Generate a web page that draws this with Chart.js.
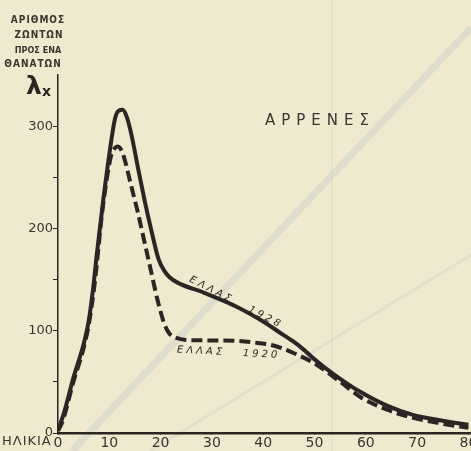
<!DOCTYPE html>
<html>
<head>
<meta charset="utf-8">
<script src="https://cdn.jsdelivr.net/npm/chart.js@4.4.1/dist/chart.umd.min.js"></script>
<style>
  html, body { margin: 0; padding: 0; background: #efe9d0; }
  #wrap { width: 471px; height: 451px; }
</style>
</head>
<body>
<div id="wrap"><canvas id="myChart" width="471" height="451"></canvas></div>
<script>
// ηλικία (x) και λx (y) για κάθε καμπύλη
var ages1928 = [0, 1, 2, 3, 4, 5, 6, 7, 7.5, 8.8, 10.1, 11.1, 11.8, 12.6, 13.4, 14.3, 15.6, 16.9, 18.2, 19.6, 20.8, 21.8, 23.3, 28.5, 35, 40, 43, 46, 48, 50, 52, 55, 59, 64, 69, 75, 80];
var vals1928 = [3, 17, 35, 54, 70, 87, 110, 148, 172, 227, 276, 307, 315, 316, 309, 292, 259, 227, 198, 170, 158, 152, 147, 137, 123, 109, 99, 89, 81, 72, 64, 53, 40, 27, 18, 12, 8];

var ages1920 = [0, 1, 2, 3, 4, 5, 6, 7, 7.5, 8.5, 9.5, 10.3, 11, 11.6, 12.3, 12.9, 14.2, 15.5, 16.8, 18.1, 19.4, 20.7, 21.6, 22.6, 25, 30, 35, 39, 42, 46, 50, 55, 59, 64, 69, 75, 80];
var vals1920 = [2, 13, 31, 50, 66, 83, 106, 140, 162, 211, 248, 270, 278, 280, 277, 269, 243, 217, 188, 159, 130, 107, 98, 94, 91, 90.5, 90, 88, 85.5, 78, 68, 50, 35, 23, 15, 9, 5];

var xTicks = [0, 10, 20, 30, 40, 50, 60, 70, 80];
var yTickLabels = [0, 100, 200, 300];

var ink = "#2b2624";
var textInk = "#3b3431";

function toPoints(xs, ys) {
  var pts = [];
  for (var i = 0; i < xs.length; i++) {
    pts.push({ x: xs[i], y: ys[i] });
  }
  return pts;
}

// χαρτί, σκιές από το πίσω μέρος της σελίδας
var paper = {
  id: "paper",
  beforeDraw: function (chart) {
    var ctx = chart.ctx;
    ctx.save();
    ctx.fillStyle = "#efe9d0";
    ctx.fillRect(0, 0, chart.width, chart.height);
    ctx.strokeStyle = "rgba(150,170,195,0.2)";
    ctx.lineWidth = 7;
    ctx.beginPath();
    ctx.moveTo(72, 451);
    ctx.lineTo(471, 28);
    ctx.stroke();
    ctx.strokeStyle = "rgba(150,165,185,0.14)";
    ctx.lineWidth = 3;
    ctx.beginPath();
    ctx.moveTo(150, 451);
    ctx.lineTo(471, 255);
    ctx.stroke();
    ctx.strokeStyle = "rgba(190,185,160,0.15)";
    ctx.lineWidth = 2;
    ctx.beginPath();
    ctx.moveTo(332, 0);
    ctx.lineTo(332, 451);
    ctx.stroke();
    ctx.restore();
  }
};

// κείμενα πάνω στο σχήμα
var labels = {
  id: "labels",
  afterDraw: function (chart) {
    var ctx = chart.ctx;
    ctx.save();
    ctx.fillStyle = textInk;
    ctx.textBaseline = "middle";

    ctx.textAlign = "center";
    ctx.font = "bold 10px 'DejaVu Sans Condensed', 'DejaVu Sans'";
    ctx.letterSpacing = "1px";
    ctx.fillText("ΑΡΙΘΜΟΣ", 38, 20);
    ctx.fillText("ΖΩΝΤΩΝ", 39, 35);
    ctx.font = "bold 9px 'DejaVu Sans Condensed', 'DejaVu Sans'";
    ctx.letterSpacing = "0px";
    ctx.fillText("ΠΡΟΣ ΕΝΑ", 38, 51);
    ctx.font = "bold 10px 'DejaVu Sans Condensed', 'DejaVu Sans'";
    ctx.letterSpacing = "1px";
    ctx.fillText("ΘΑΝΑΤΩΝ", 33, 64);
    ctx.letterSpacing = "0px";

    ctx.textAlign = "left";
    ctx.fillStyle = ink;
    ctx.font = "bold 25px 'DejaVu Sans'";
    ctx.fillText("λ", 26, 87);
    ctx.font = "bold 14px 'DejaVu Sans'";
    ctx.fillText("x", 42, 92);

    ctx.fillStyle = textInk;
    ctx.font = "15px 'DejaVu Sans'";
    ctx.letterSpacing = "6px";
    ctx.fillText("ΑΡΡΕΝΕΣ", 265, 121);

    ctx.font = "13px 'DejaVu Sans'";
    ctx.letterSpacing = "1px";
    ctx.fillText("ΗΛΙΚΙΑ", 2, 442);

    ctx.fillStyle = ink;
    ctx.font = "italic 10px 'DejaVu Sans'";
    ctx.letterSpacing = "3px";
    ctx.save();
    ctx.translate(190, 279);
    ctx.rotate(27 * Math.PI / 180);
    ctx.fillText("ΕΛΛΑΣ", 0, 0);
    ctx.fillText("1928", 66, 0);
    ctx.restore();

    ctx.save();
    ctx.translate(177, 350);
    ctx.rotate(3 * Math.PI / 180);
    ctx.fillText("ΕΛΛΑΣ", 0, 0);
    ctx.fillText("1920", 66, 0);
    ctx.restore();

    ctx.restore();
  }
};

const ctx = document.getElementById("myChart");

new Chart(ctx, {
  type: "line",
  data: {
    datasets: [
      {
        label: "ΕΛΛΑΣ 1928",
        data: toPoints(ages1928, vals1928),
        borderColor: ink,
        borderWidth: 4,
        pointRadius: 0,
        cubicInterpolationMode: "monotone",
        fill: false,
      },
      {
        label: "ΕΛΛΑΣ 1920",
        data: toPoints(ages1920, vals1920),
        borderColor: ink,
        borderWidth: 4,
        borderDash: [11, 5],
        pointRadius: 0,
        cubicInterpolationMode: "monotone",
        fill: false,
      },
    ],
  },
  options: {
    responsive: false,
    animation: false,
    layout: { padding: { top: 75, right: 0, bottom: 0, left: 0 } },
    plugins: {
      legend: { display: false },
      tooltip: { enabled: false },
    },
    scales: {
      x: {
        type: "linear",
        min: 0,
        max: 80.5,
        afterBuildTicks: function (s) {
          s.ticks = xTicks.map(function (v) { return { value: v }; });
        },
        afterFit: function (s) {
          s.height = 18;
          s.paddingLeft = 0;
          s.paddingRight = 0;
        },
        ticks: {
          color: textInk,
          font: { family: "DejaVu Sans", size: 14 },
          padding: 0,
          maxRotation: 0,
          autoSkip: false,
        },
        grid: { drawOnChartArea: false, tickLength: 2, color: ink, lineWidth: 1 },
        border: { color: ink, width: 2.5 },
      },
      y: {
        min: 0,
        max: 350,
        afterBuildTicks: function (s) {
          var t = [];
          for (var v = 0; v <= 300; v += 50) t.push({ value: v });
          s.ticks = t;
        },
        afterFit: function (s) {
          s.width = 58;
          s.paddingTop = 0;
          s.paddingBottom = 0;
        },
        ticks: {
          color: textInk,
          font: { family: "DejaVu Sans", size: 13 },
          padding: 0,
          callback: function (v) {
            return yTickLabels.indexOf(v) >= 0 ? String(v) : "";
          },
        },
        grid: { drawOnChartArea: false, tickLength: 5, color: ink, lineWidth: 1 },
        border: { color: ink, width: 1.5 },
      },
    },
  },
  plugins: [paper, labels],
});
</script>
</body>
</html>
